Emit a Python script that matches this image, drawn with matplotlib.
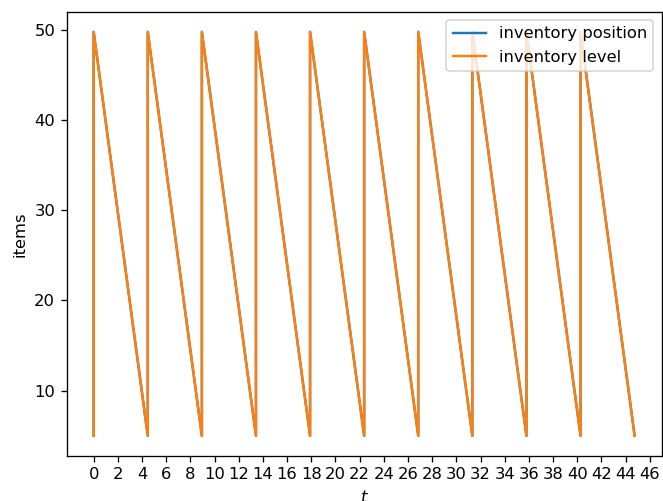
import matplotlib
matplotlib.use("Agg")
import matplotlib.pyplot as plt

# times at which an order arrives (inventory jumps back up)
order_times = [0, 4.475, 8.95, 13.425, 17.9, 22.375, 26.85, 31.325, 35.8, 40.275]
end_time = 44.75
reorder_level = 5
peak_level = 49.75

# build the sawtooth path: vertical jump at each order, linear drop in between
t = []
level = []
for ot in order_times:
    t += [ot, ot]
    level += [reorder_level, peak_level]
t.append(end_time)
level.append(reorder_level)

position = list(level)

dpi = 118
fig = plt.figure(figsize=(663 / dpi, 501 / dpi), dpi=dpi)
ax = fig.add_axes([0.1005, 0.0898, 0.8975, 0.8868])

ax.plot(t, position, label="inventory position")
ax.plot(t, level, label="inventory level")

ax.set_xticks(range(0, 47, 2))
ax.set_xlabel("$t$")
ax.set_ylabel("items")
ax.legend(loc="upper right")

fig.savefig("out.png", dpi=dpi)
